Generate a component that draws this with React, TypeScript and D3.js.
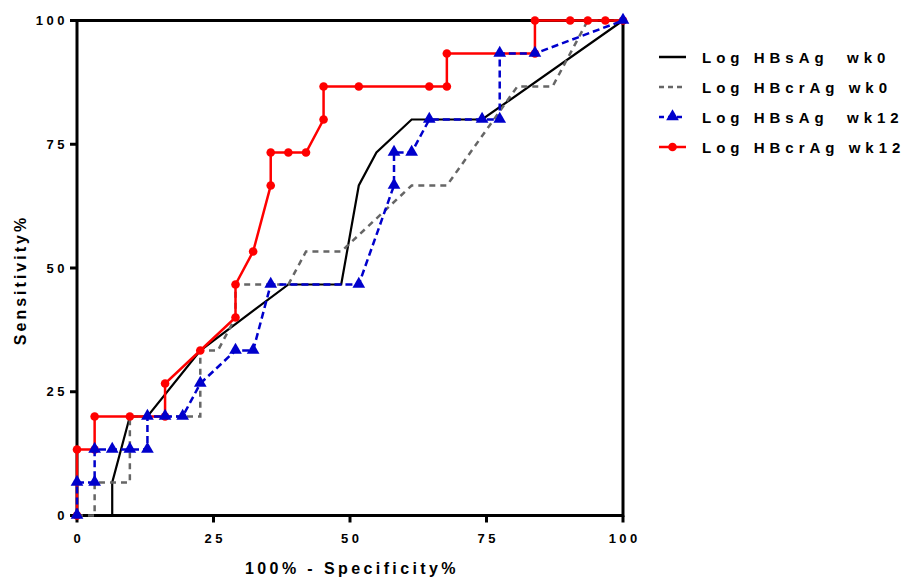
import React from 'react';
import * as d3 from 'd3';

// ROC curves: x = 100% - specificity, y = sensitivity
const seriesNames = ['Log HBsAg  wk0', 'Log HBcrAg wk0', 'Log HBsAg  wk12', 'Log HBcrAg wk12'];

const hbsAgWk0X = [0, 6.45, 6.45, 9.68, 12.9, 22.58, 38.71, 48.39, 51.61, 54.84, 61.29, 74.19, 100];
const hbsAgWk0Y = [0, 0, 6.67, 20, 20, 33.33, 46.67, 46.67, 66.67, 73.33, 80, 80, 100];

const hbcrAgWk0X = [0, 3.23, 3.23, 9.68, 9.68, 22.58, 22.58, 25.81, 29.03, 29.03, 38.71, 41.94, 48.39, 61.29, 67.74, 80.65, 87.1, 93.55, 100];
const hbcrAgWk0Y = [0, 0, 6.67, 6.67, 20, 20, 33.33, 33.33, 40, 46.67, 46.67, 53.33, 53.33, 66.67, 66.67, 86.67, 86.67, 100, 100];

const hbsAgWk12X = [0, 0, 3.23, 3.23, 6.45, 9.68, 12.9, 12.9, 16.13, 19.35, 22.58, 29.03, 32.26, 35.48, 51.61, 58.06, 58.06, 61.29, 64.52, 74.19, 77.42, 77.42, 83.87, 100];
const hbsAgWk12Y = [0, 6.67, 6.67, 13.33, 13.33, 13.33, 13.33, 20, 20, 20, 26.67, 33.33, 33.33, 46.67, 46.67, 66.67, 73.33, 73.33, 80, 80, 80, 93.33, 93.33, 100];

const hbcrAgWk12X = [0, 0, 3.23, 3.23, 9.68, 16.13, 16.13, 22.58, 29.03, 29.03, 32.26, 35.48, 35.48, 38.71, 41.94, 45.16, 45.16, 51.61, 64.52, 67.74, 67.74, 83.87, 83.87, 90.32, 93.55, 96.77, 100];
const hbcrAgWk12Y = [0, 13.33, 13.33, 20, 20, 20, 26.67, 33.33, 40, 46.67, 53.33, 66.67, 73.33, 73.33, 73.33, 80, 86.67, 86.67, 86.67, 86.67, 93.33, 93.33, 100, 100, 100, 100, 100];

const tickValues = [0, 25, 50, 75, 100];

const W = 906, H = 577;
const left = 77, right = 623, top = 20.5, bottom = 515.5;

export default function App() {
  const x = d3.scaleLinear().domain([0, 100]).range([left, right]);
  const y = d3.scaleLinear().domain([0, 100]).range([bottom, top]);
  const line = d3.line<[number, number]>().x(d => x(d[0])).y(d => y(d[1]));

  const zip = (a: number[], b: number[]) => a.map((v, i) => [v, b[i]] as [number, number]);
  const s0 = zip(hbsAgWk0X, hbsAgWk0Y);
  const s1 = zip(hbcrAgWk0X, hbcrAgWk0Y);
  const s2 = zip(hbsAgWk12X, hbsAgWk12Y);
  const s3 = zip(hbcrAgWk12X, hbcrAgWk12Y);

  const tri = d3.symbol().type(d3.symbolTriangle).size(70)();
  const font = 'Liberation Sans, Arial, sans-serif';

  const legendY = [57, 87, 117, 147];

  return (
    <svg width={W} height={H} style={{ position: 'absolute', left: 0, top: 0, background: '#fff' }}>
      {/* frame */}
      <rect x={left} y={top} width={right - left} height={bottom - top} fill="none" stroke="#000" strokeWidth={3} />

      {/* ticks */}
      {tickValues.map(t => (
        <g key={'x' + t}>
          <line x1={x(t)} x2={x(t)} y1={bottom} y2={bottom + 7} stroke="#000" strokeWidth={3} />
          <text x={x(t) + 1.75} y={bottom + 27} textAnchor="middle" fontFamily={font} fontWeight="bold" fontSize={13} letterSpacing={3.5}>{t}</text>
        </g>
      ))}
      {tickValues.map(t => (
        <g key={'y' + t}>
          <line x1={left - 7} x2={left} y1={y(t)} y2={y(t)} stroke="#000" strokeWidth={3} />
          <text x={left - 9} y={y(t) + 4.5} textAnchor="end" fontFamily={font} fontWeight="bold" fontSize={13} letterSpacing={3.5}>{t}</text>
        </g>
      ))}

      <text x={(left + right) / 2 + 2} y={574} textAnchor="middle" fontFamily={font} fontWeight="bold" fontSize={16} letterSpacing={3.4}>100% - Specificity%</text>
      <text transform={`translate(26,${(top + bottom) / 2 + 12}) rotate(-90)`} textAnchor="middle" fontFamily={font} fontWeight="bold" fontSize={16} letterSpacing={3}>Sensitivity%</text>

      {/* series */}
      <path d={line(s0)!} fill="none" stroke="#000" strokeWidth={2.2} />
      <path d={line(s1)!} fill="none" stroke="#666" strokeWidth={2.5} strokeDasharray="6,5" />
      <path d={line(s3)!} fill="none" stroke="#ff0000" strokeWidth={2.5} />
      {s3.map((d, i) => <circle key={'r' + i} cx={x(d[0])} cy={y(d[1])} r={4.3} fill="#ff0000" />)}
      <path d={line(s2)!} fill="none" stroke="#0000cc" strokeWidth={2.5} strokeDasharray="7,4" />
      {s2.map((d, i) => <path key={'b' + i} d={tri!} transform={`translate(${x(d[0])},${y(d[1]) - 0.5})`} fill="#0000cc" />)}

      {/* legend */}
      <line x1={659} x2={686} y1={legendY[0]} y2={legendY[0]} stroke="#000" strokeWidth={2.5} />
      <line x1={659} x2={686} y1={legendY[1]} y2={legendY[1]} stroke="#666" strokeWidth={2.5} strokeDasharray="5,4" />
      <line x1={659} x2={686} y1={legendY[2]} y2={legendY[2]} stroke="#0000cc" strokeWidth={2.5} strokeDasharray="5,4" />
      <path d={tri!} transform={`translate(672.5,${legendY[2] - 0.5})`} fill="#0000cc" />
      <line x1={659} x2={686} y1={legendY[3]} y2={legendY[3]} stroke="#ff0000" strokeWidth={2.5} />
      <circle cx={672.5} cy={legendY[3]} r={4.3} fill="#ff0000" />
      {seriesNames.map((n, i) => (
        <text key={n} x={702} y={legendY[i] + 6} fontFamily={font} fontWeight="bold" fontSize={15} letterSpacing={5} style={{ whiteSpace: 'pre' }}>{n}</text>
      ))}
    </svg>
  );
}
